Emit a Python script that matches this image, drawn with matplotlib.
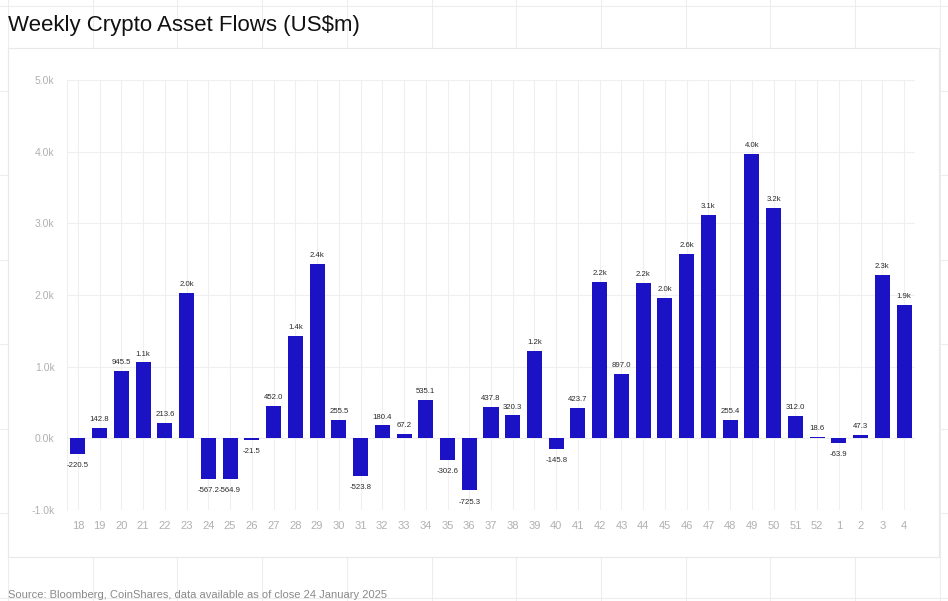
import matplotlib.pyplot as plt
from matplotlib.lines import Line2D
from matplotlib.patches import Rectangle

plt.rcParams['font.family'] = ['Liberation Sans', 'DejaVu Sans']

# Weekly flows (US$m), week numbers
weeks = ['18', '19', '20', '21', '22', '23', '24', '25', '26', '27', '28', '29', '30',
         '31', '32', '33', '34', '35', '36', '37', '38', '39', '40', '41', '42', '43',
         '44', '45', '46', '47', '48', '49', '50', '51', '52', '1', '2', '3', '4']
flows = [-220.5, 142.8, 945.5, 1060, 213.6, 2032, -567.2, -564.9, -21.5, 452.0, 1430, 2430,
         255.5, -523.8, 180.4, 67.2, 535.1, -302.6, -725.3, 437.8, 320.3, 1220, -145.8,
         423.7, 2180, 897.0, 2165, 1965, 2570, 3120, 255.4, 3970, 3210, 312.0, 18.6,
         -63.9, 47.3, 2280, 1860]
yticks = [-1000, 0, 1000, 2000, 3000, 4000, 5000]

W, H = 948, 601
bar_color = '#1b12c6'
grid_color = '#efefef'


def fmt(v):
    if abs(v) >= 1000:
        return f'{v / 1000:.1f}k'
    return f'{v:.1f}'


fig = plt.figure(figsize=(W / 100, H / 100), dpi=100)
fig.patch.set_facecolor('white')

# faint page grid behind the card
for i in range(12):
    x = (8 + 84.7 * i) / W
    fig.add_artist(Line2D([x, x], [0, 1], color='#ededed', lw=0.8, zorder=-3))
for j in range(8):
    y = 1 - (6 + 84.5 * j) / H
    fig.add_artist(Line2D([0, 1], [y, y], color='#ededed', lw=0.8, zorder=-3))

# white card
fig.add_artist(Rectangle((8 / W, 1 - 557 / H), (939 - 8) / W, (557 - 48) / H,
                         facecolor='white', edgecolor='#e8e8e8', lw=0.8, zorder=-2))

ax = fig.add_axes([67 / W, 1 - 510 / H, (915 - 67) / W, (510 - 80) / H])
ax.set_facecolor('none')

xs = range(len(weeks))
ax.bar(xs, flows, width=0.69, color=bar_color, zorder=3)

for x, v in zip(xs, flows):
    if v >= 0:
        ax.annotate(fmt(v), (x, v), xytext=(0, 6), textcoords='offset points',
                    ha='center', va='center', fontsize=5.6, color='#2a2a2a')
    else:
        ax.annotate(fmt(v), (x, v), xytext=(0, -8.5), textcoords='offset points',
                    ha='center', va='center', fontsize=5.6, color='#2a2a2a')

ax.set_xlim(-0.5, len(weeks) - 0.5)
ax.set_ylim(-1000, 5000)
ax.set_xticks(list(xs))
ax.set_xticklabels(weeks)
ax.set_yticks(yticks)
ax.set_yticklabels([f'{t / 1000:.1f}k' for t in yticks])
ax.tick_params(axis='x', length=0, pad=8, labelsize=8, labelcolor='#b0b0b0')
ax.tick_params(axis='y', length=0, pad=9, labelsize=7.5, labelcolor='#b0b0b0')
ax.grid(True, color=grid_color, lw=0.8, zorder=0)
for side in ['top', 'right', 'bottom']:
    ax.spines[side].set_visible(False)
ax.spines['left'].set_color(grid_color)

fig.text(8 / W, 1 - 25 / H, 'Weekly Crypto Asset Flows (US$m)', fontsize=16,
         color='#111111', va='center', ha='left')
fig.text(8 / W, 1 - 595 / H,
         'Source: Bloomberg, CoinShares, data available as of close 24 January 2025',
         fontsize=8, color='#8a8a8a', va='center', ha='left')

fig.savefig('out.png', dpi=100, facecolor='white')
